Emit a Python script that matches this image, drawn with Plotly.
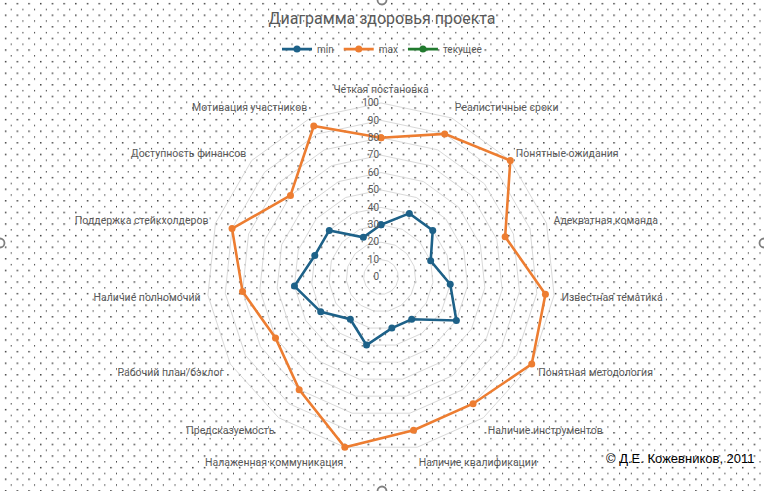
import plotly.graph_objects as go

categories = [
    "Четкая постановка", "Реалистичные сроки", "Понятные ожидания",
    "Адекватная команда", "Известная тематика", "Понятная методология",
    "Наличие инструментов", "Наличие квалификации", "Налаженная коммуникация",
    "Предсказуемость", "Рабочий план/бэклог", "Наличие полномочий",
    "Поддержка стейкхолдеров", "Доступность финансов", "Мотивация участников",
]
min_values = [30, 40, 40, 30, 40, 50, 30, 30, 40, 30, 40, 50, 40, 40, 25]
max_values = [80, 90, 100, 75, 95, 100, 90, 90, 100, 80, 70, 80, 90, 70, 95]
current_values = []  # пусто

GREY = "#595959"
FONT = "Roboto"
W, H = 764, 491

# точечная заливка фона (как узор 5% в Excel)
dots_svg = (
    "<svg xmlns='http://www.w3.org/2000/svg' width='764' height='491'>"
    "<defs><pattern id='p' width='11.7' height='11.6' patternUnits='userSpaceOnUse'>"
    "<rect x='5' y='3' width='1.3' height='1.3' fill='black'/>"
    "<rect x='10.85' y='8.8' width='1.3' height='1.3' fill='black'/>"
    "</pattern></defs>"
    "<rect width='764' height='491' fill='white'/>"
    "<rect width='764' height='491' fill='url(#p)'/></svg>"
)
dots_uri = "data:image/svg+xml;charset=utf-8," + dots_svg.replace("#", "%23").replace("<", "%3C").replace(">", "%3E")


def closed(vals):
    return vals + vals[:1]


fig = go.Figure()

fig.add_trace(go.Scatterpolar(
    r=closed(min_values), theta=closed(categories), name="min",
    mode="lines+markers",
    line=dict(color="#1D6188", width=2.6),
    marker=dict(size=7, color="#1D6188"),
))
fig.add_trace(go.Scatterpolar(
    r=closed(max_values), theta=closed(categories), name="max",
    mode="lines+markers",
    line=dict(color="#ED7D31", width=2.6),
    marker=dict(size=7, color="#ED7D31"),
))
fig.add_trace(go.Scatterpolar(
    r=current_values or [None], theta=[categories[0]], name="текущее",
    mode="lines+markers",
    line=dict(color="#217A2E", width=2.6),
    marker=dict(size=7, color="#217A2E"),
))

# маркеры выделения области диаграммы по краям (как в Excel)
handles = []
for cx, cy in [(382, 0), (382, H), (0, 243), (W, 243)]:
    handles.append(dict(
        type="circle", xref="paper", yref="paper",
        x0=(cx - 4.5) / W, x1=(cx + 4.5) / W,
        y0=1 - (cy + 4.5) / H, y1=1 - (cy - 4.5) / H,
        line=dict(color="#7F7F7F", width=1.8), fillcolor="white", layer="above",
    ))

fig.update_layout(
    width=W, height=H,
    margin=dict(l=0, r=0, t=0, b=0),
    paper_bgcolor="white",
    font=dict(family=FONT, size=10, color=GREY),
    title=dict(text="Диаграмма здоровья проекта", x=0.5, xanchor="center",
               y=0.962, yanchor="middle", font=dict(size=16, color=GREY)),
    legend=dict(orientation="h", x=0.5, xanchor="center", y=0.9, yanchor="middle",
                bgcolor="rgba(0,0,0,0)", font=dict(size=10, color=GREY),
                itemwidth=30, tracegroupgap=0),
    polar=dict(
        domain=dict(x=[0.2618, 0.7356], y=[0.0672, 0.8045]),
        bgcolor="rgba(0,0,0,0)",
        gridshape="linear",
        angularaxis=dict(
            type="category", categoryarray=categories,
            rotation=90, direction="clockwise",
            showgrid=False, showline=False, ticks="",
            tickfont=dict(size=10.5, color=GREY),
        ),
        radialaxis=dict(
            range=[0, 104], tickvals=list(range(0, 101, 10)), angle=90, tickangle=90,
            showline=False, ticks="", side="counterclockwise",
            gridcolor="#D9D9D9", gridwidth=1,
            tickfont=dict(size=10, color=GREY),
        ),
    ),
    images=[dict(source=dots_uri, xref="paper", yref="paper", x=0, y=1,
                 sizex=1, sizey=1, sizing="stretch", layer="below",
                 xanchor="left", yanchor="top")],
    shapes=handles,
    annotations=[dict(text="© Д.Е. Кожевников, 2011", xref="paper", yref="paper",
                      x=0.991, y=0.067, xanchor="right", yanchor="middle",
                      showarrow=False,
                      font=dict(family="Liberation Sans Narrow, Liberation Sans", size=13, color="black"))],
)

# убрать стандартный отступ body в 8px
fig.write_html("out.html", config={"displayModeBar": False},
               post_script="document.body.style.margin='0px';")
